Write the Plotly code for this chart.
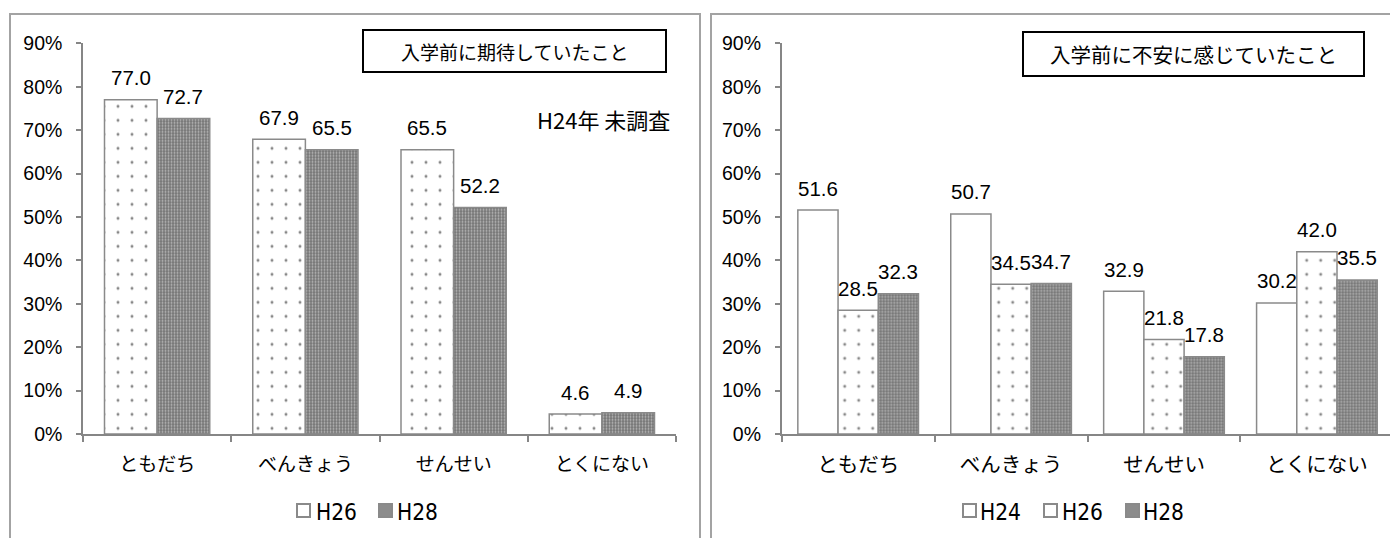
import plotly.graph_objects as go

# ---- data -------------------------------------------------------------
categories = ["ともだち", "べんきょう", "せんせい", "とくにない"]

# 入学前に期待していたこと (%)
expect_names = ["H26", "H28"]
expect_h26 = [77.0, 67.9, 65.5, 4.6]
expect_h28 = [72.7, 65.5, 52.2, 4.9]

# 入学前に不安に感じていたこと (%)
worry_names = ["H24", "H26", "H28"]
worry_h24 = [51.6, 50.7, 32.9, 30.2]
worry_h26 = [28.5, 34.5, 21.8, 42.0]
worry_h28 = [32.3, 34.7, 17.8, 35.5]

y_ticks = [0, 10, 20, 30, 40, 50, 60, 70, 80, 90]
y_tick_text = [f"{v}%" for v in y_ticks]

left_title = "入学前に期待していたこと"
right_title = "入学前に不安に感じていたこと"
left_note = "H24年 未調査"

# ---- page geometry (pixels) -------------------------------------------
W, H = 1390, 538


def px(x):
    return x / W


def py(y):
    return 1 - y / H


LATIN = "Liberation Sans"
CJK = "Noto Sans CJK JP"
NARROW = "DejaVu Sans Condensed"
GRAY = "#8a8a8a"

plain = dict(color="white", line=dict(color=GRAY, width=1.5))
dotted = dict(color="white", line=dict(color=GRAY, width=1.5),
              pattern=dict(shape=".", size=14, solidity=0.035,
                           fgcolor="#111111", bgcolor="white"))
checker = dict(color="#8a8a8a", line=dict(color=GRAY, width=1.5),
               pattern=dict(shape=".", size=3, solidity=0.35,
                            fgcolor="#ffffff", bgcolor="#757575"))

fig = go.Figure()

# left chart: two bars per category
L_W = 0.355
left_series = [(expect_names[0], expect_h26, dotted),
               (expect_names[1], expect_h28, checker)]
n = len(left_series)
left_offsets = [(i - n / 2) * L_W for i in range(n)]
for (name, vals, mk), off in zip(left_series, left_offsets):
    fig.add_trace(go.Bar(x=categories, y=vals, name=name, marker=mk,
                         width=L_W, offset=off, xaxis="x", yaxis="y",
                         showlegend=False, hoverinfo="x+y"))

# right chart: three bars per category
R_W = 0.263
right_series = [(worry_names[0], worry_h24, plain),
                (worry_names[1], worry_h26, dotted),
                (worry_names[2], worry_h28, checker)]
n = len(right_series)
right_offsets = [(i - n / 2) * R_W for i in range(n)]
for (name, vals, mk), off in zip(right_series, right_offsets):
    fig.add_trace(go.Bar(x=categories, y=vals, name=name, marker=mk,
                         width=R_W, offset=off, xaxis="x2", yaxis="y2",
                         showlegend=False, hoverinfo="x+y"))

annotations = []


def value_labels(series, offsets, width, xref, yref):
    for (_, vals, _), off in zip(series, offsets):
        for i, v in enumerate(vals):
            annotations.append(dict(
                x=i + off + width / 2, y=v, xref=xref, yref=yref,
                text=f"{v:.1f}", showarrow=False, yshift=22,
                xanchor="center", yanchor="middle",
                font=dict(family=LATIN, size=20.5, color="black")))


value_labels(left_series, left_offsets, L_W, "x", "y")
value_labels(right_series, right_offsets, R_W, "x2", "y2")

shapes = []
# panel frames
shapes.append(dict(type="rect", xref="paper", yref="paper",
                   x0=px(10), x1=px(700), y0=py(14), y1=py(600),
                   line=dict(color="#a3a3a3", width=2), layer="below"))
shapes.append(dict(type="rect", xref="paper", yref="paper",
                   x0=px(711), x1=px(1420), y0=py(14), y1=py(600),
                   line=dict(color="#a3a3a3", width=2), layer="below"))

# title boxes
for (x0, x1, y0, y1, txt, size) in [(363, 666, 30, 72, left_title, 19),
                                    (1023, 1364, 32, 76, right_title, 20.5)]:
    shapes.append(dict(type="rect", xref="paper", yref="paper",
                       x0=px(x0), x1=px(x1), y0=py(y0), y1=py(y1),
                       line=dict(color="black", width=2), fillcolor="white"))
    annotations.append(dict(x=px((x0 + x1) / 2), y=py((y0 + y1) / 2),
                            xref="paper", yref="paper", text=txt,
                            showarrow=False, xanchor="center",
                            yanchor="middle",
                            font=dict(family=CJK, size=size, color="black")))

annotations.append(dict(x=px(603), y=py(119), xref="paper", yref="paper",
                        text=left_note, showarrow=False, xanchor="center",
                        yanchor="middle",
                        font=dict(family=CJK, size=22, color="black")))

# legends: swatch + label
swatch_fill = {"plain": "white", "dotted": "white", "checker": "#8c8c8c"}


def legend(items, y_mid):
    for sx, tx, name, kind in items:
        shapes.append(dict(type="rect", xref="paper", yref="paper",
                           x0=px(sx), x1=px(sx + 13),
                           y0=py(y_mid - 6.5), y1=py(y_mid + 6.5),
                           line=dict(color=GRAY, width=2),
                           fillcolor=swatch_fill[kind]))
        annotations.append(dict(x=px(tx), y=py(y_mid + 1), xref="paper",
                                yref="paper", text=name, showarrow=False,
                                xanchor="left", yanchor="middle",
                                font=dict(family=NARROW, size=22.5,
                                          color="black")))


legend([(297, 314, expect_names[0], "dotted"),
        (379, 395, expect_names[1], "checker")], 510.5)
legend([(963, 978, worry_names[0], "plain"),
        (1044, 1060, worry_names[1], "dotted"),
        (1126, 1141, worry_names[2], "checker")], 510.5)

xaxis_style = dict(type="category", categoryorder="array",
                   categoryarray=categories, showline=True,
                   linecolor="#868686", linewidth=1.5, ticks="outside",
                   tickson="boundaries", ticklen=6, tickwidth=1.5,
                   tickcolor="#868686", showgrid=False, zeroline=False,
                   ticklabelstandoff=12, automargin=False)
yaxis_style = dict(range=[0, 90], tickmode="array", tickvals=y_ticks,
                   ticktext=y_tick_text, showline=True, linecolor="#868686",
                   linewidth=1.5, ticks="outside", ticklen=5, tickwidth=1.5,
                   tickcolor="#868686", showgrid=False, zeroline=False,
                   ticklabelstandoff=10, automargin=False,
                   tickfont=dict(family=LATIN, size=19.5, color="black"))

fig.update_layout(
    width=W, height=H, autosize=False,
    margin=dict(l=0, r=0, t=0, b=0, pad=0),
    paper_bgcolor="white", plot_bgcolor="rgba(0,0,0,0)",
    barmode="group",
    xaxis=dict(domain=[px(83), px(676)], range=[-0.5, 3.5], anchor="y",
               tickfont=dict(family=CJK, size=19, color="black"),
               **xaxis_style),
    yaxis=dict(domain=[py(434), py(43.4)], anchor="x", **yaxis_style),
    xaxis2=dict(domain=[px(781.7), 1.0], range=[-0.5, 3.478], anchor="y2",
                tickfont=dict(family=CJK, size=20.5, color="black"),
                **xaxis_style),
    yaxis2=dict(domain=[py(434), py(43.4)], anchor="x2", **yaxis_style),
    shapes=shapes,
    annotations=annotations,
    showlegend=False,
)

fig.write_html("out.html")
